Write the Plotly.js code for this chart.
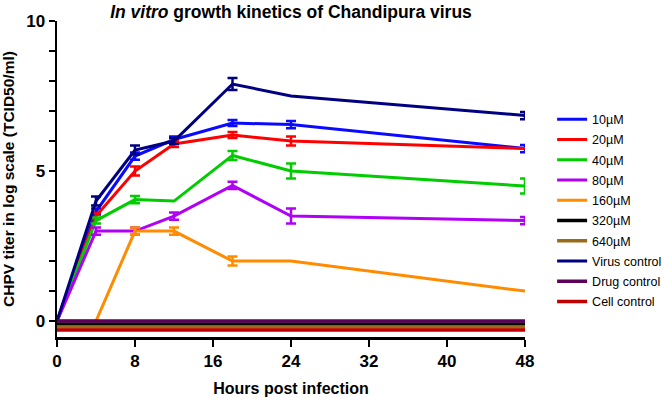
<!DOCTYPE html>
<html>
<head>
<meta charset="utf-8">
<script src="https://cdn.plot.ly/plotly-3.0.1.min.js"></script>
<style>html,body{margin:0;padding:0;background:#fff;}#chart{width:662px;height:398px;}</style>
</head>
<body>
<div id="chart"></div>
<script>
const hours = [0, 4, 8, 12, 18, 24, 48];
const seriesNames = ["10\u00B5M", "20\u00B5M", "40\u00B5M", "80\u00B5M", "160\u00B5M", "320\u00B5M", "640\u00B5M", "Virus control", "Drug control", "Cell control"];
const v10 = [0, 3.65, 5.5, 6.05, 6.6, 6.55, 5.75];
const e10 = [NaN, 0.1, 0.12, 0.1, 0.1, 0.12, 0.12];
const v20 = [0, 3.5, 5.0, 5.9, 6.2, 6.0, 5.75];
const e20 = [NaN, 0.1, 0.15, 0.1, 0.1, 0.15, NaN];
const v40 = [0, 3.35, 4.05, 4.0, 5.52, 5.0, 4.5];
const e40 = [NaN, 0.1, 0.12, NaN, 0.15, 0.25, 0.25];
const v80 = [0, 3.0, 3.0, 3.5, 4.52, 3.5, 3.35];
const e80 = [NaN, 0.12, 0.12, 0.12, 0.12, 0.25, 0.12];
const v160 = [0, 0, 3.0, 3.0, 2.0, 2.0, 1.0];
const e160 = [NaN, NaN, 0.12, 0.12, 0.15, NaN, NaN];
const v320 = [-0.1, -0.1, -0.1, -0.1, -0.1, -0.1, -0.1];
const v640 = [-0.2, -0.2, -0.2, -0.2, -0.2, -0.2, -0.2];
const vVirus = [0, 4.0, 5.7, 6.0, 7.9, 7.5, 6.85];
const eVirus = [NaN, 0.15, 0.15, 0.1, 0.2, NaN, 0.12];
const vDrug = [0, 0, 0, 0, 0, 0, 0];
const vCell = [-0.3, -0.3, -0.3, -0.3, -0.3, -0.3, -0.3];

const values = [v10, v20, v40, v80, v160, v320, v640, vVirus, vDrug, vCell];
const errors = [e10, e20, e40, e80, e160, null, null, eVirus, null, null];
const colors = ["#0a0aff", "#ff0000", "#00cc00", "#b000f5", "#ff8c00", "#000000", "#9a6a1a", "#000080", "#5c005c", "#c00000"];
const widths = [3, 3, 3, 3, 3, 3.5, 3.5, 3, 3.5, 3.5];

const traces = values.map((v, i) => {
  const t = {
    x: hours, y: v, name: seriesNames[i], type: 'scatter', mode: 'lines',
    legendgroup: 'g' + i,
    line: {color: colors[i], width: widths[i]},
    cliponaxis: false
  };
  if (errors[i]) {
    t.error_y = {type: 'data', array: errors[i], visible: true, color: colors[i], thickness: 2.5, width: 5};
  }
  return t;
});

const F = "Liberation Sans, Arial, Helvetica, sans-serif";
const layout = {
  width: 662, height: 398,
  margin: {l: 57, r: 137, t: 21, b: 61},
  paper_bgcolor: '#fff', plot_bgcolor: '#fff',
  font: {family: F, color: '#000'},
  title: {text: "<b><i>In vitro</i> growth kinetics of Chandipura virus</b>", font: {family: F, size: 17.5, color: '#000'}, x: 0.5, xref: 'paper', y: 0.97, yref: 'container', yanchor: 'middle'},
  xaxis: {
    range: [0, 48], tickvals: [0, 8, 16, 24, 32, 40, 48], ticks: 'outside', ticklen: 7, tickwidth: 2.5, tickcolor: '#000',
    showline: true, linewidth: 2.5, linecolor: '#000', showgrid: false, zeroline: false,
    tickfont: {family: F, size: 17, weight: 'bold', color: '#000'},
    title: {text: "<b>Hours post infection</b>", font: {family: F, size: 16, color: '#000'}, standoff: 13}
  },
  yaxis: {
    range: [-0.53, 10], tickvals: [0, 5, 10], ticks: 'outside', ticklen: 6, tickwidth: 2.5, tickcolor: '#000',
    minor: {dtick: 1, ticks: 'outside', ticklen: 6, tickwidth: 2.5, tickcolor: '#000', showgrid: false},
    showline: true, linewidth: 2.5, linecolor: '#000', showgrid: false, zeroline: false,
    tickfont: {family: F, size: 17, weight: 'bold', color: '#000'},
    title: {text: "<b>CHPV titer in log scale (TCID50/ml)</b>", font: {family: F, size: 15.5, color: '#000'}, standoff: 10}
  },
  showlegend: true,
  legend: {x: 0.834, xref: 'container', xanchor: 'left', y: 0.737, yref: 'container', yanchor: 'top',
    font: {family: F, size: 12.5, color: '#000'}, bgcolor: 'rgba(0,0,0,0)', tracegroupgap: 1, itemwidth: 30, maxheight: 390}
};

Plotly.newPlot('chart', traces, layout, {displayModeBar: false, staticPlot: true});
</script>
</body>
</html>
